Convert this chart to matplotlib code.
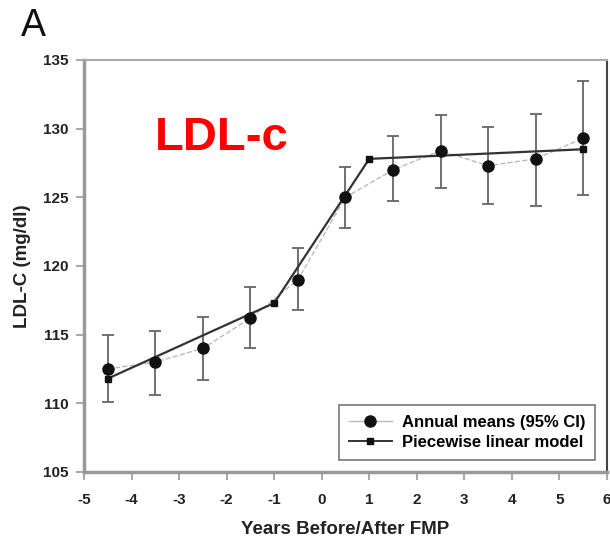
import matplotlib
matplotlib.use("Agg")
import matplotlib.pyplot as plt
from matplotlib.lines import Line2D

plt.rcParams['font.family'] = ['Liberation Sans', 'DejaVu Sans']

# Annual means with 95% CI
years = [-4.5, -3.5, -2.5, -1.5, -0.5, 0.5, 1.5, 2.5, 3.5, 4.5, 5.5]
means = [112.5, 113.0, 114.0, 116.2, 119.0, 125.0, 127.0, 128.4, 127.3, 127.8, 129.3]
ci_upper = [115.0, 115.3, 116.3, 118.5, 121.3, 127.2, 129.5, 131.0, 130.1, 131.1, 133.5]
ci_lower = [110.1, 110.6, 111.7, 114.0, 116.8, 122.8, 124.7, 125.7, 124.5, 124.4, 125.2]

# Piecewise linear model knots
model_x = [-4.5, -1.0, 1.0, 5.5]
model_y = [111.8, 117.3, 127.8, 128.5]

xticks = [-5, -4, -3, -2, -1, 0, 1, 2, 3, 4, 5, 6]
yticks = [105, 110, 115, 120, 125, 130, 135]

fig = plt.figure(figsize=(6.10, 5.38), dpi=100)
ax = fig.add_axes([0.1377, 0.1227, 0.8573, 0.7658])

yerr = [[m - l for m, l in zip(means, ci_lower)], [u - m for m, u in zip(means, ci_upper)]]
ax.errorbar(years, means, yerr=yerr, fmt='none', ecolor='#666666', elinewidth=1.3,
            capsize=4.3, capthick=1.3, zorder=2)
ax.plot(years, means, color='#bbbbbb', lw=1.0, ls='--', zorder=3)
ax.plot(years, means, 'o', color='#111111', ms=8, zorder=5)
ax.plot(model_x, model_y, '-', color='#333333', lw=1.6, marker='s', ms=5,
        markerfacecolor='#111111', markeredgecolor='#111111', zorder=4)

ax.set_xlim(-5, 6)
ax.set_ylim(105, 135)
ax.set_xticks(xticks)
ax.set_yticks(yticks)
ax.set_xticklabels([str(t) for t in xticks], fontsize=11, fontweight='bold', color='#222222')
ax.set_yticklabels([str(t) for t in yticks], fontsize=11, fontweight='bold', color='#222222')
ax.tick_params(axis='both', direction='out', length=6, width=1.2, color='#999999')
ax.tick_params(axis='x', pad=9)
ax.tick_params(axis='y', pad=5)

for side in ['left', 'bottom']:
    ax.spines[side].set_color('#999999')
    ax.spines[side].set_linewidth(2.5)
ax.spines['top'].set_color('#aaaaaa')
ax.spines['top'].set_linewidth(1.5)
ax.spines['right'].set_color('#444444')
ax.spines['right'].set_linewidth(1.5)

ax.set_xlabel('Years Before/After FMP', fontsize=13.5, fontweight='bold', color='#222222', labelpad=10)
ax.set_ylabel('LDL-C (mg/dl)', fontsize=13.5, fontweight='bold', color='#222222', labelpad=9)

ax.text(0.135, 0.81, 'LDL-c', transform=ax.transAxes, color='#ff0000', fontsize=34,
        fontweight='bold', ha='left', va='center')
fig.text(0.035, 0.952, 'A', fontsize=27, ha='left', va='center', color='#111111')

handles = [
    Line2D([0], [0], color='#bbbbbb', lw=1.0, marker='o', ms=8,
           markerfacecolor='#111111', markeredgecolor='#111111'),
    Line2D([0], [0], color='#333333', lw=1.4, marker='s', ms=5,
           markerfacecolor='#111111', markeredgecolor='#111111'),
]
leg = ax.legend(handles, ['Annual means (95% CI)', 'Piecewise linear model'],
                loc='lower right', bbox_to_anchor=(0.978, 0.03), borderaxespad=0,
                fancybox=False, edgecolor='#777777', framealpha=1, borderpad=0.6,
                handlelength=2.6, handletextpad=0.6, labelspacing=0.3,
                prop={'size': 12, 'weight': 'bold'})
leg.get_frame().set_linewidth(1.2)

fig.savefig('out.png', dpi=100)
